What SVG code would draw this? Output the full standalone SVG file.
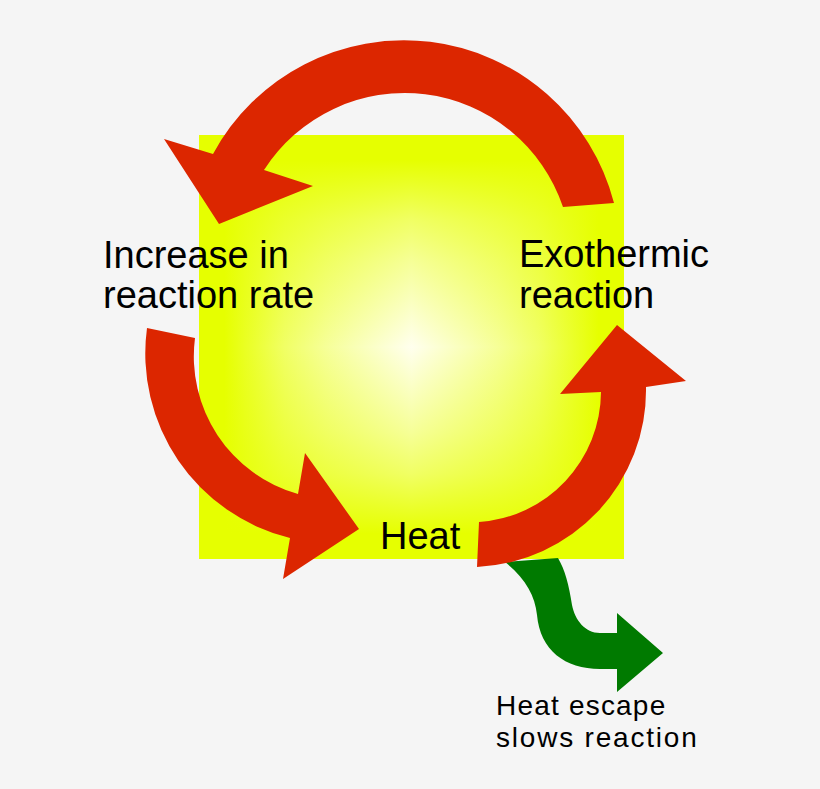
<svg xmlns="http://www.w3.org/2000/svg" width="820" height="789" viewBox="0 0 820 789">
  <defs>
    <linearGradient id="gh" x1="0" y1="0" x2="1" y2="0">
      <stop offset="0" stop-color="#e6ff00" stop-opacity="1"/>
      <stop offset="0.06" stop-color="#e6ff00" stop-opacity="1"/>
      <stop offset="0.2" stop-color="#e6ff00" stop-opacity="0.58"/>
      <stop offset="0.3" stop-color="#e6ff00" stop-opacity="0.36"/>
      <stop offset="0.4" stop-color="#e6ff00" stop-opacity="0.18"/>
      <stop offset="0.5" stop-color="#e6ff00" stop-opacity="0"/>
      <stop offset="0.6" stop-color="#e6ff00" stop-opacity="0.18"/>
      <stop offset="0.7" stop-color="#e6ff00" stop-opacity="0.36"/>
      <stop offset="0.8" stop-color="#e6ff00" stop-opacity="0.58"/>
      <stop offset="0.94" stop-color="#e6ff00" stop-opacity="1"/>
      <stop offset="1" stop-color="#e6ff00" stop-opacity="1"/>
    </linearGradient>
    <linearGradient id="gv" x1="0" y1="0" x2="0" y2="1">
      <stop offset="0" stop-color="#e6ff00" stop-opacity="1"/>
      <stop offset="0.06" stop-color="#e6ff00" stop-opacity="1"/>
      <stop offset="0.2" stop-color="#e6ff00" stop-opacity="0.58"/>
      <stop offset="0.3" stop-color="#e6ff00" stop-opacity="0.36"/>
      <stop offset="0.4" stop-color="#e6ff00" stop-opacity="0.18"/>
      <stop offset="0.5" stop-color="#e6ff00" stop-opacity="0"/>
      <stop offset="0.6" stop-color="#e6ff00" stop-opacity="0.18"/>
      <stop offset="0.7" stop-color="#e6ff00" stop-opacity="0.36"/>
      <stop offset="0.8" stop-color="#e6ff00" stop-opacity="0.58"/>
      <stop offset="0.94" stop-color="#e6ff00" stop-opacity="1"/>
      <stop offset="1" stop-color="#e6ff00" stop-opacity="1"/>
    </linearGradient>
  </defs>
  <style>
    .red { fill: #dc2600; }
    .green { fill: #007a00; }
    .lbl { font-family: "Liberation Sans", Arial, sans-serif; font-size: 38px; fill: #000; }
    .small { font-family: "Liberation Sans", Arial, sans-serif; font-size: 28px; letter-spacing: 1.2px; fill: #000; }
  </style>
  <rect x="0" y="0" width="820" height="789" fill="#f5f5f5"/>
  <g id="glow">
    <rect x="199" y="135" width="425" height="424" fill="#ffffee"/>
    <rect x="199" y="135" width="425" height="424" fill="url(#gh)"/>
    <rect x="199" y="135" width="425" height="424" fill="url(#gv)"/>
  </g>
  <g id="connectors">
    <path id="escape-arrow" class="green" d="M 505 562 C 525 578, 535 595, 537 615 C 540 650, 565 669, 600 669 L 617 669 L 617 692 L 663 653 L 617 613 L 617 633 L 600 633 C 585 633, 575 620, 572 605 C 569 585, 565 570, 558 558 Z"/>
    <path id="arrow-top" class="red" d="M 614 203 A 217 217 0 0 0 213 154 L 164 139 L 219 224 L 313 186 L 264 170 A 167 167 0 0 1 563 207 Z"/>
    <path id="arrow-left" class="red" d="M 147 328 A 190 190 0 0 0 290 538 L 283 579 L 359 529 L 305 453 L 298 494 A 143 143 0 0 1 195 338 Z"/>
    <path id="arrow-right" class="red" d="M 477 567 A 177 177 0 0 0 646 387 L 686 381 L 617 325 L 560 394 L 601 392 A 131 131 0 0 1 479 522 Z"/>
  </g>
  <g id="node-rate">
    <text class="lbl" x="103" y="268">Increase in</text>
    <text class="lbl" x="103" y="308">reaction rate</text>
  </g>
  <g id="node-exo">
    <text class="lbl" x="519" y="267">Exothermic</text>
    <text class="lbl" x="519" y="308">reaction</text>
  </g>
  <g id="node-heat">
    <text class="lbl" x="380" y="549">Heat</text>
  </g>
  <g id="node-escape">
    <text class="small" x="496" y="715">Heat escape</text>
    <text class="small" x="496" y="747" style="letter-spacing:1.8px">slows reaction</text>
  </g>
</svg>
